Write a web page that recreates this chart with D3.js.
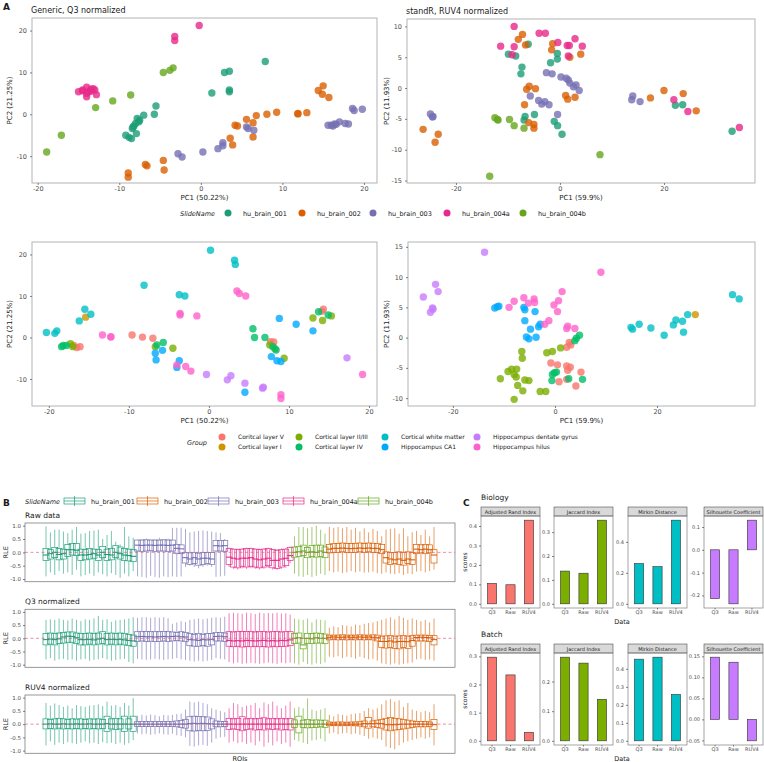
<!DOCTYPE html>
<html><head><meta charset="utf-8">
<script src="https://cdn.jsdelivr.net/npm/d3@7"></script>
<style>body{margin:0;background:#fff}svg{display:block;font-family:"DejaVu Sans",sans-serif}</style>
</head><body><svg id="c" width="764" height="762"></svg>
<script>
// ---------------- DATA ----------------
const slideNames = ["hu_brain_001","hu_brain_002","hu_brain_003","hu_brain_004a","hu_brain_004b"];
const slideColors = ["#1b9e77","#d95f02","#7570b3","#e7298a","#66a61e"];
const groupNames = ["Coritcal layer V","Cortical layer I","Cortical layer II/III","Cortical layer IV","Cortical white matter","Hippocampus CA1","Hippocampus dentate gyrus","Hippocampus hilus"];
const groupColors = ["#F8766D","#CD9600","#7CAE00","#00BE67","#00BFC4","#00A9FF","#C77CFF","#FF61CC"];

// PCA: Generic Q3 normalized, by slide
const q3S001 = [[7.9,12.6],[2.9,10],[3.5,10.3],[3.5,5.8],[3.5,5.4],[1.35,5.1],[-5.5,2],[-5.7,0],[-7,-0.2],[-7.8,-1],[-7.5,-1.4],[-8,-2.2],[-8.3,-3],[-8.4,-3.4],[-7.9,-4.6],[-9.2,-5],[-8.8,-5.5],[-8.5,-5.8],[-7.6,-1.8],[-8.2,-2.8]];
const q3S002 = [[15,6.8],[14.4,5.7],[14.9,4.8],[15.7,4],[13,0.4],[11.9,0.2],[11.9,0.1],[9.3,0.5],[8.1,0],[6.8,-0.3],[5.6,-1.2],[6.4,-2],[4.2,-2.6],[4.5,-2.8],[3.6,-5.7],[3.9,-7.3],[6.4,-5.4],[-4.6,-11],[-4.5,-13.3],[-6.8,-12],[-6.6,-12.3],[-8.9,-14],[-8.9,-15]];
const q3S003 = [[19.8,1.2],[18.6,1.4],[18.8,0.9],[15.6,-2.6],[16,-2.6],[16.2,-2.8],[16.6,-2.4],[17,-1.8],[17.7,-2.2],[18.1,-2.3],[16.4,-2.3],[5.6,-3],[5.8,-3.4],[6.5,-3.8],[2.7,-6.8],[2.7,-7.5],[2.1,-8.2],[0.25,-9],[-2.8,-9.4],[-2.3,-10.2]];
const q3S004a = [[-0.2,21.2],[-3.2,18.6],[-3.2,17.6],[-15,5.4],[-14.5,5.6],[-14,6.5],[-14,5],[-13.5,6],[-13.5,5.5],[-13,5.8],[-12.8,4.7],[-14,4.2],[-14.5,5.8],[-13.8,5.3],[-13.2,6.1]];
const q3S004b = [[-18.9,-9],[-17.1,-5],[-12.9,1.6],[-10.8,3.2],[-8.6,4.6],[-4.6,10],[-3.8,10.5],[-3.4,11.1]];

// PCA: standR RUV4 normalized, by slide
const ruvS001 = [[-9.9,5.5],[-8.5,5.2],[-6.1,7.1],[-7.3,3.4],[-7.5,2.3],[-0.5,5.6],[-0.5,4.7],[-1.8,4.1],[-6.7,-4.6],[-6.9,-5.2],[-4.9,-4.3],[-1.1,-5.4],[-0.45,-6.1],[0.4,-7.5],[22.2,-2.8],[23.6,-2.7],[33.1,-7]];
const ruvS002 = [[-7.2,8.7],[-8,7.9],[-6.6,7],[-1.4,7.2],[-1.6,6.2],[1.9,5],[4,5.5],[-5.9,0.3],[-6.4,-0.2],[-4.7,-0.1],[-6.8,-2.7],[-6,-5.6],[-5,-5.9],[-5,-6.5],[1.1,-1.2],[1.5,-1.8],[2.9,-1.5],[17.4,-1.6],[20,-0.4],[23.7,-0.9],[26.2,-3.7],[-26.3,-6.7],[-23.4,-7.5],[-24,-8.8]];
const ruvS003 = [[-24.9,-4.2],[-24.5,-4.7],[-24.4,-4.6],[-2.6,2.5],[-1.5,2.3],[0.2,1.8],[1.2,1.6],[1.6,1.3],[1.9,0.8],[3.1,0.5],[3.7,-0.4],[2.6,0.2],[-5.7,-1.3],[-4.1,-2],[-3.5,-2.6],[-2.9,-2.2],[-2.1,-2.7],[-0.45,-4.3],[14,-1.3],[13.8,-1.9],[15.4,-2.2]];
const ruvS004a = [[-8.8,10],[-11.4,6.8],[-8.8,6.7],[-9.2,5.4],[-4,8.9],[-2.8,8.9],[-0.4,7.4],[1.4,6.9],[1.8,6.9],[1.6,5.2],[2.9,8],[4.3,6.8],[21.9,-1.9],[24.6,-3.8],[34.5,-6.4]];
const ruvS004b = [[-12.5,-4.8],[-11.9,-5.2],[-12,-5.1],[-9.7,-5.1],[-8.8,-6.1],[-6.9,-6.5],[7.7,-10.8],[-13.5,-14.3]];

// PCA: Generic Q3 normalized, by group
const q3GV = [[-16.9,-1.9],[-16.5,-2.4],[-16.1,-2.2],[-9.6,0.6],[-8.3,0.1],[-7,-0.2],[7.7,-1],[8.1,-1.1],[14.3,6.8],[14.1,6.3]];
const q3GI = [[-15.4,4.9]];
const q3GII = [[-17.3,-1.5],[-17,-2.2],[-6.7,-2.2],[-4.5,-2.6],[7.6,-1.8],[8.25,-2.7],[9.4,-5],[13,4.7],[14.2,4.1],[15.3,5.2]];
const q3GIV = [[-18.4,-2.2],[-18.2,-1.9],[-17.8,-1.9],[-6.5,-1.8],[-5.7,-1.2],[5.5,2.1],[5.7,0],[7,0],[8,-2.2],[8.4,-3],[13.7,6.2],[14.9,5.4]];
const q3GWM = [[-20.3,1.2],[-19.25,1],[-19,1.6],[-16.2,4],[-15.5,6.8],[-14.75,5.6],[-8.1,12.6],[-3.7,10.3],[-3,10],[0.2,21],[3.2,18.6],[3.3,17.6]];
const q3GCA1 = [[8.8,4.6],[10.9,3.2],[13,1.6],[-6.7,-3.8],[-6.6,-5.4],[-5.8,-3.1],[-3.7,-5.6],[-4,-7.2],[4.5,-13.2],[7.8,-4.6],[8.5,-5.6],[9,-5.8]];
const q3GDG = [[-0.3,-8.9],[2.3,-10.2],[2.75,-9.2],[4.5,-11],[6.7,-12.2],[6.8,-12],[17.25,-4.9]];
const q3GHil = [[-13.3,0.6],[-12.25,0.2],[-12.25,0.1],[-3.6,5.8],[-3.6,5.4],[-1.5,5.2],[3.5,11.2],[3.8,10.6],[4.6,10],[-4,-6.6],[-2.9,-7],[-2.25,-8.1],[9,-13.8],[9,-14.7],[19.2,-8.9]];

// PCA: standR RUV4 normalized, by group
const ruvGV = [[-0.8,-4.2],[0.5,-4.5],[0.8,-7.3],[2.3,-1.6],[2.8,-0.8],[3.1,-1.2],[2.3,-4.7],[3,-4.9],[2.5,-5.4],[2.3,-6.9],[5.1,-5.7],[4.1,-8]];
const ruvGI = [[27.5,3.8]];
const ruvGII = [[-6.5,-2.3],[-6.4,-3.4],[-1.6,-2.5],[-0.5,-2.3],[1.1,-1.7],[-9.2,-5.6],[-8.5,-5.2],[-7.5,-5.2],[-8,-6.1],[-7.6,-6.5],[-10.7,-6.8],[-5.9,-7],[-5.1,-7.1],[-7.3,-7.9],[-6.3,-8.8],[-2.9,-8.9],[-1.8,-8.9],[-8,-10.2]];
const ruvGIV = [[4.2,-0.1],[4.8,0.4],[3.9,-0.5],[-0.1,-5.8],[-0.5,-6.1],[0.3,-5.7],[-0.6,-7.1],[2.7,-6.8],[5.4,-6.9]];
const ruvGWM = [[14.9,1.7],[15.2,1.4],[16.5,2.2],[18.8,1.6],[21.4,0.4],[23.2,2.1],[23.7,2.9],[25,2.7],[26,3.8],[25.2,0.9],[34.8,7.1],[36.1,6.4]];
const ruvGCA1 = [[-11.8,4.9],[-11.3,5.1],[-11,5.2],[-6.1,5],[-5.9,4.6],[-3.9,4.3],[-5.9,2.8],[-4.8,1.4],[-2.9,2.2],[-3.2,1.8],[-5.6,0.1],[-5.1,-0.2],[-3.7,0.05]];
const ruvGDG = [[-13.8,14.1],[-23.4,8.8],[-22.9,7.6],[-25.8,6.7],[-24,4.9],[-23.9,4.7],[-24.4,4.2]];
const ruvGHil = [[9,10.8],[1.4,7.6],[0.7,6.1],[-0.2,5.4],[0.5,4.3],[-6.1,6.6],[-4.1,6.4],[-4,5.8],[-5.2,5.7],[-8,6],[-9,5],[-1.2,2.8],[-2,2.2],[2.3,1.5],[2.5,1.9],[3.9,1.5]];

// RLE boxplots: ROIs ordered by slide (001, 003, 004a, 004b, 002); each [lower whisker, Q1, median, Q3, upper whisker]
const roiSlideOrder = [0,2,3,4,1];
const roiCounts = [21,21,15,8,25];
const rleRaw = [
[-0.90,-0.30,-0.10,0.15,0.97],[-0.75,-0.25,-0.05,0.10,0.75],[-0.85,-0.20,0.00,0.18,0.85],[-0.70,-0.28,-0.08,0.15,0.85],[-0.80,-0.25,-0.05,0.12,0.78],[-0.75,-0.15,0.10,0.30,0.72],[-0.85,-0.10,0.10,0.33,0.85],[-0.65,-0.12,0.08,0.33,0.95],[-0.90,-0.30,-0.10,0.12,0.70],[-0.85,-0.28,-0.10,0.10,0.72],[-0.80,-0.25,-0.08,0.15,0.80],[-0.88,-0.22,-0.05,0.12,0.82],[-0.75,-0.30,-0.10,0.10,0.85],[-0.82,-0.20,0.00,0.22,0.50],[-0.90,-0.30,-0.08,0.12,0.65],[-0.78,-0.28,-0.10,0.15,0.80],[-0.85,-0.20,0.00,0.25,0.40],[-0.95,-0.25,-0.05,0.20,0.30],[-0.80,-0.30,-0.10,0.15,0.95],[-0.90,-0.32,-0.12,0.12,0.60],[-0.70,-0.35,-0.15,0.10,0.55],
[-0.90,0.05,0.27,0.46,0.48],[-0.92,0.04,0.26,0.46,0.50],[-0.95,0.05,0.27,0.47,0.52],[-0.88,0.06,0.27,0.46,0.48],[-0.92,0.04,0.26,0.46,0.50],[-0.95,0.05,0.27,0.46,0.55],[-0.90,0.05,0.27,0.47,0.50],[-0.93,0.04,0.26,0.46,0.52],[-0.90,0.05,0.27,0.46,0.92],[-0.92,-0.05,0.15,0.30,0.92],[-0.90,-0.05,0.13,0.28,0.92],[-0.55,-0.40,-0.20,0.00,0.88],[-0.50,-0.45,-0.25,-0.02,0.75],[-0.55,-0.42,-0.20,0.00,0.78],[-0.60,-0.48,-0.25,-0.03,0.80],[-0.55,-0.45,-0.22,0.00,0.82],[-0.50,-0.42,-0.22,0.00,0.80],[-0.55,-0.45,-0.25,0.00,0.78],[-0.92,0.05,0.25,0.45,0.75],[-0.90,0.05,0.24,0.45,0.72],[-0.88,0.04,0.25,0.44,0.50],
[-0.55,-0.45,-0.18,0.15,0.18],[-0.62,-0.55,-0.22,0.12,0.15],[-0.65,-0.58,-0.25,0.10,0.14],[-0.60,-0.52,-0.22,0.12,0.15],[-0.62,-0.55,-0.22,0.14,0.18],[-0.60,-0.52,-0.20,0.15,0.18],[-0.62,-0.55,-0.25,0.12,0.15],[-0.65,-0.58,-0.28,0.10,0.14],[-0.62,-0.55,-0.25,0.12,0.16],[-0.58,-0.50,-0.22,0.14,0.18],[-0.65,-0.58,-0.30,0.10,0.13],[-0.66,-0.60,-0.30,0.08,0.12],[-0.62,-0.55,-0.25,0.10,0.15],[-0.58,-0.50,-0.22,0.12,0.16],[-0.40,-0.30,-0.12,0.18,0.22],
[-0.80,-0.18,0.00,0.20,0.60],[-0.90,-0.15,0.02,0.22,0.95],[-0.92,-0.12,0.05,0.27,0.95],[-0.85,-0.20,0.00,0.18,0.90],[-0.92,-0.15,0.02,0.25,0.95],[-0.88,-0.18,0.00,0.27,1.00],[-0.80,-0.15,0.05,0.27,0.85],[-0.85,-0.20,0.00,0.20,0.70],
[-0.70,-0.02,0.12,0.30,0.95],[-0.75,0.00,0.15,0.33,0.92],[-0.72,0.00,0.15,0.33,0.95],[-0.78,0.02,0.16,0.35,0.90],[-0.75,0.00,0.15,0.33,0.95],[-0.70,0.00,0.14,0.33,0.85],[-0.75,0.00,0.15,0.34,0.92],[-0.72,0.02,0.16,0.35,0.78],[-0.76,0.00,0.15,0.33,0.90],[-0.75,0.02,0.16,0.35,0.75],[-0.72,0.00,0.15,0.34,0.88],[-0.78,0.00,0.15,0.33,0.80],[-0.80,-0.05,0.10,0.30,0.60],[-0.75,-0.40,-0.20,0.02,0.85],[-0.80,-0.45,-0.25,0.00,0.88],[-0.82,-0.42,-0.28,0.00,0.90],[-0.78,-0.45,-0.25,0.02,0.70],[-0.85,-0.48,-0.30,0.00,0.90],[-0.80,-0.42,-0.25,0.02,0.60],[-0.82,-0.45,-0.28,0.00,0.75],[-0.72,-0.05,0.12,0.30,0.80],[-0.70,-0.02,0.10,0.28,0.65],[-0.75,-0.05,0.12,0.30,0.85],[-0.70,-0.02,0.10,0.28,0.60],[-0.65,-0.40,-0.10,0.10,0.95]];
const rleQ3 = [
[-0.80,-0.25,-0.05,0.18,0.70],[-0.75,-0.22,-0.03,0.20,0.72],[-0.85,-0.25,-0.05,0.18,0.70],[-0.80,-0.20,-0.02,0.20,0.75],[-0.78,-0.18,0.05,0.22,0.70],[-0.82,-0.15,0.08,0.24,0.68],[-0.80,-0.15,0.07,0.24,0.75],[-0.85,-0.20,0.02,0.20,0.70],[-0.80,-0.25,-0.05,0.18,0.65],[-0.78,-0.25,-0.05,0.18,0.72],[-0.85,-0.22,-0.04,0.20,0.70],[-0.82,-0.25,-0.06,0.18,0.75],[-0.80,-0.22,-0.03,0.20,0.85],[-0.75,-0.20,0.00,0.25,0.70],[-0.80,-0.25,-0.05,0.18,0.72],[-0.85,-0.22,-0.04,0.20,0.62],[-0.82,-0.25,-0.05,0.18,0.68],[-0.80,-0.22,-0.04,0.20,0.70],[-0.78,-0.25,-0.06,0.18,0.72],[-0.90,-0.28,-0.08,0.15,0.75],[-0.95,-0.30,-0.10,0.12,0.80],
[-0.78,-0.12,0.06,0.25,0.78],[-0.80,-0.10,0.07,0.25,0.80],[-0.82,-0.12,0.06,0.26,0.80],[-0.80,-0.11,0.06,0.25,0.78],[-0.78,-0.12,0.05,0.25,0.80],[-0.80,-0.12,0.06,0.25,0.78],[-0.82,-0.10,0.07,0.26,0.80],[-0.80,-0.12,0.06,0.25,0.76],[-0.78,-0.10,0.07,0.24,0.55],[-0.75,-0.08,0.08,0.22,0.60],[-0.80,-0.10,0.06,0.25,0.65],[-0.82,-0.12,0.05,0.22,0.62],[-0.85,-0.28,-0.05,0.18,0.70],[-0.88,-0.30,-0.06,0.15,0.72],[-0.85,-0.30,-0.08,0.18,0.75],[-0.88,-0.28,-0.05,0.15,0.72],[-0.85,-0.30,-0.06,0.18,0.75],[-0.82,-0.25,-0.04,0.18,0.78],[-0.75,-0.10,0.07,0.22,0.80],[-0.78,-0.10,0.08,0.22,0.78],[-0.80,-0.12,0.06,0.20,0.82],
[-0.90,-0.30,-0.08,0.25,0.95],[-0.95,-0.32,-0.10,0.24,0.97],[-0.92,-0.30,-0.09,0.26,0.95],[-0.97,-0.33,-0.10,0.25,0.93],[-0.95,-0.31,-0.08,0.26,0.97],[-0.93,-0.32,-0.09,0.25,0.95],[-0.95,-0.30,-0.10,0.24,0.92],[-0.97,-0.32,-0.09,0.26,0.97],[-0.95,-0.31,-0.08,0.25,0.95],[-0.92,-0.33,-0.10,0.24,0.96],[-0.95,-0.30,-0.09,0.25,0.95],[-0.97,-0.32,-0.10,0.26,0.97],[-0.93,-0.31,-0.08,0.24,0.94],[-0.95,-0.30,-0.09,0.25,0.95],[-0.92,-0.28,-0.06,0.25,0.90],
[-0.95,-0.20,0.00,0.18,0.75],[-1.00,-0.18,0.02,0.20,0.72],[-0.90,-0.40,-0.25,0.00,0.70],[-0.98,-0.20,0.00,0.18,0.75],[-1.00,-0.20,-0.02,0.18,0.60],[-0.95,-0.18,0.02,0.20,0.72],[-0.98,-0.18,0.00,0.18,0.70],[-0.92,-0.20,0.00,0.16,0.68],
[-0.70,-0.06,0.04,0.12,0.40],[-0.72,-0.05,0.05,0.12,0.45],[-0.68,-0.06,0.04,0.12,0.42],[-0.75,-0.05,0.04,0.13,0.50],[-0.70,-0.06,0.05,0.12,0.48],[-0.72,-0.05,0.04,0.12,0.45],[-0.78,-0.06,0.04,0.12,0.52],[-0.70,-0.05,0.05,0.13,0.50],[-0.75,-0.06,0.04,0.12,0.55],[-0.80,-0.05,0.05,0.12,0.58],[-0.78,-0.06,0.04,0.13,0.60],[-0.85,-0.10,0.02,0.12,0.65],[-0.95,-0.35,-0.12,0.08,0.70],[-0.98,-0.37,-0.12,0.09,0.75],[-1.00,-0.35,-0.10,0.10,0.80],[-0.95,-0.38,-0.14,0.08,0.72],[-1.00,-0.40,-0.12,0.09,0.85],[-0.97,-0.35,-0.12,0.10,0.78],[-0.95,-0.38,-0.13,0.08,0.70],[-0.92,-0.30,-0.08,0.10,0.75],[-0.80,-0.10,0.03,0.12,0.70],[-0.78,-0.10,0.04,0.12,0.65],[-0.82,-0.10,0.03,0.12,0.70],[-0.80,-0.12,0.02,0.10,0.60],[-0.85,-0.25,-0.05,0.10,0.75]];
const rleRUV4 = [
[-0.80,-0.18,0.00,0.20,0.80],[-0.65,-0.16,0.01,0.18,0.70],[-0.78,-0.18,0.00,0.20,0.78],[-0.70,-0.15,0.00,0.22,0.72],[-0.75,-0.18,0.01,0.20,0.65],[-0.68,-0.16,0.00,0.18,0.70],[-0.72,-0.18,0.00,0.20,0.60],[-0.75,-0.17,0.01,0.19,0.72],[-0.70,-0.18,0.00,0.20,0.68],[-0.65,-0.16,0.00,0.18,0.65],[-0.72,-0.18,0.01,0.20,0.70],[-0.70,-0.17,0.00,0.19,0.72],[-0.75,-0.18,0.00,0.20,0.75],[-0.68,-0.16,0.00,0.18,0.68],[-0.72,-0.27,0.02,0.30,0.85],[-0.70,-0.18,0.00,0.20,0.70],[-0.75,-0.20,0.00,0.22,0.72],[-0.70,-0.18,0.00,0.20,0.65],[-0.78,-0.27,0.00,0.30,0.80],[-0.72,-0.18,0.00,0.20,0.70],[-0.60,-0.27,0.00,0.30,0.98],
[-0.35,-0.08,0.00,0.09,0.32],[-0.38,-0.09,0.00,0.10,0.35],[-0.36,-0.08,0.00,0.09,0.33],[-0.40,-0.09,0.00,0.10,0.36],[-0.38,-0.08,0.00,0.09,0.34],[-0.35,-0.09,0.00,0.10,0.30],[-0.38,-0.08,0.00,0.09,0.35],[-0.40,-0.09,0.00,0.10,0.33],[-0.36,-0.08,0.00,0.09,0.35],[-0.42,-0.10,0.00,0.12,0.38],[-0.45,-0.12,0.00,0.14,0.40],[-0.50,-0.15,0.00,0.18,0.55],[-0.82,-0.25,0.02,0.28,0.85],[-0.85,-0.26,0.03,0.30,0.82],[-0.80,-0.24,0.02,0.29,0.85],[-0.78,-0.25,0.03,0.28,0.80],[-0.82,-0.24,0.02,0.27,0.75],[-0.70,-0.18,0.01,0.20,0.60],[-0.55,-0.10,0.00,0.12,0.55],[-0.50,-0.10,0.00,0.10,0.50],[-0.48,-0.09,0.00,0.10,0.45],
[-0.70,-0.20,0.00,0.22,0.60],[-0.65,-0.18,0.00,0.20,0.80],[-0.72,-0.20,0.00,0.22,0.75],[-0.68,-0.25,0.00,0.28,0.65],[-0.75,-0.20,0.00,0.20,0.70],[-0.70,-0.18,0.00,0.22,0.72],[-0.80,-0.22,0.00,0.20,0.80],[-0.65,-0.20,0.00,0.22,0.60],[-0.85,-0.22,0.00,0.24,0.82],[-0.70,-0.18,0.00,0.20,0.75],[-0.80,-0.20,0.00,0.22,0.85],[-0.65,-0.18,0.00,0.20,0.70],[-0.75,-0.22,0.00,0.22,0.60],[-0.70,-0.20,0.00,0.20,0.70],[-0.85,-0.22,0.00,0.22,0.85],
[-0.60,-0.12,0.00,0.16,0.60],[-0.65,-0.33,0.00,0.30,0.65],[-0.70,-0.12,0.00,0.15,0.60],[-0.75,-0.14,0.00,0.18,0.97],[-0.62,-0.12,0.00,0.15,0.55],[-0.60,-0.12,0.00,0.16,0.50],[-0.55,-0.10,0.00,0.15,0.55],[-0.65,-0.12,0.00,0.15,0.60],
[-0.35,-0.06,0.00,0.08,0.35],[-0.32,-0.05,0.00,0.07,0.30],[-0.38,-0.06,0.00,0.08,0.38],[-0.35,-0.06,0.00,0.08,0.35],[-0.33,-0.05,0.00,0.07,0.32],[-0.38,-0.06,0.00,0.08,0.38],[-0.35,-0.06,0.00,0.08,0.40],[-0.40,-0.07,0.00,0.09,0.42],[-0.45,-0.10,0.02,0.12,0.50],[-0.55,-0.15,0.02,0.25,0.60],[-0.50,-0.10,0.02,0.12,0.55],[-0.55,-0.12,0.03,0.15,0.60],[-0.60,-0.15,0.02,0.18,0.75],[-0.85,-0.22,-0.02,0.22,0.90],[-0.90,-0.25,-0.02,0.25,0.95],[-0.95,-0.22,-0.02,0.22,0.85],[-0.80,-0.20,-0.01,0.20,0.90],[-0.70,-0.18,0.00,0.18,0.65],[-0.65,-0.15,0.00,0.15,0.80],[-0.60,-0.12,0.00,0.12,0.55],[-0.55,-0.10,0.00,0.10,0.50],[-0.50,-0.10,0.00,0.10,0.45],[-0.55,-0.10,0.00,0.10,0.50],[-0.50,-0.08,0.00,0.08,0.45],[-0.80,-0.20,-0.02,0.18,0.75]];
const rleTicks = [-1.0,-0.5,0.0,0.5,1.0];

// Clustering scores
const metricNames = ["Adjusted Rand Index","Jaccard Index","Mirkin Distance","Silhouette Coefficient"];
const metricColors = ["#F8766D","#7CAE00","#00BFC4","#C77CFF"];
const dataTypes = ["Q3","Raw","RUV4"];
const bioARI = [0.105,0.098,0.43], bioJac = [0.137,0.128,0.35], bioMirkin = [0.26,0.24,0.54], bioSil = [-0.214,-0.237,0.13];
const batchARI = [0.297,0.234,0.03], batchJac = [0.282,0.262,0.14], batchMirkin = [0.454,0.465,0.258], batchSil = [0.148,0.136,-0.051];
const bioTicks = [[0,0.1,0.2,0.3,0.4],[0,0.1,0.2,0.3],[0,0.2,0.4],[-0.2,-0.1,0,0.1]];
const batchTicks = [[0,0.1,0.2,0.3],[0,0.1,0.2],[0,0.1,0.2,0.3,0.4],[-0.05,0,0.05,0.1,0.15]];

// ---------------- DRAW ----------------
const svg = d3.select("#c");
function text(x,y,s,o={}){
  const t = svg.append("text").attr("x",x).attr("y",y).text(s)
    .attr("font-size",o.size||8).attr("fill",o.fill||"#1a1a1a")
    .attr("text-anchor",o.anchor||"start");
  if(o.italic) t.attr("font-style","italic");
  if(o.bold) t.attr("font-weight","bold");
  if(o.rot) t.attr("transform",`rotate(-90,${x},${y})`);
  if(o.mid) t.attr("dominant-baseline","central");
  return t;
}
function styleAxis(g, fs){
  g.select(".domain").remove();
  g.selectAll(".tick line").attr("stroke","#333").attr("stroke-width",0.6);
  g.selectAll(".tick text").attr("fill","#4d4d4d").attr("font-size",fs).attr("font-family","DejaVu Sans, sans-serif");
}

function pcaPanel(p){
  const x = d3.scaleLinear().domain(p.xd).range([p.l,p.r]);
  const y = d3.scaleLinear().domain(p.yd).range([p.b,p.t]);
  const g = svg.append("g");
  p.layers.forEach(L=>{
    g.append("g").selectAll("circle").data(L.pts).join("circle")
      .attr("cx",d=>x(d[0])).attr("cy",d=>y(d[1])).attr("r",3.7)
      .attr("fill",L.color).attr("fill-opacity",0.8);
  });
  g.append("rect").attr("x",p.l).attr("y",p.t).attr("width",p.r-p.l).attr("height",p.b-p.t)
    .attr("fill","none").attr("stroke","#b3b3b3").attr("stroke-width",1);
  const ax = g.append("g").attr("transform",`translate(0,${p.b})`)
    .call(d3.axisBottom(x).tickValues(p.xt).tickSize(2).tickPadding(1.5).tickFormat(d=>String(d)));
  styleAxis(ax,6.5);
  const ay = g.append("g").attr("transform",`translate(${p.l},0)`)
    .call(d3.axisLeft(y).tickValues(p.yt).tickSize(2).tickPadding(3).tickFormat(d=>String(d)));
  styleAxis(ay,6.5);
  if(p.title) text(p.l-1,p.t-5,p.title,{size:8});
  text((p.l+p.r)/2,p.b+17,p.xlab,{size:7,anchor:"middle"});
  text(p.yl,(p.t+p.b)/2,p.ylab,{size:7,anchor:"middle",rot:true});
}

text(3,10,"A",{size:9,bold:true});
pcaPanel({l:32,r:377,t:18,b:183,xd:[-20.7,21.6],yd:[-16.4,23.0],xt:[-20,-10,0,10,20],yt:[-10,0,10,20],
  title:"Generic, Q3 normalized",xlab:"PC1 (50.22%)",ylab:"PC2 (21.25%)",yl:12,
  layers:[{pts:q3S001,color:slideColors[0]},{pts:q3S002,color:slideColors[1]},{pts:q3S003,color:slideColors[2]},{pts:q3S004a,color:slideColors[3]},{pts:q3S004b,color:slideColors[4]}]});
pcaPanel({l:407,r:755,t:19,b:183,xd:[-29.4,37.5],yd:[-15.4,11.2],xt:[-20,0,20],yt:[-15,-10,-5,0,5,10],
  title:"standR, RUV4 normalized",xlab:"PC1 (59.9%)",ylab:"PC2 (11.93%)",yl:389,
  layers:[{pts:ruvS001,color:slideColors[0]},{pts:ruvS002,color:slideColors[1]},{pts:ruvS003,color:slideColors[2]},{pts:ruvS004a,color:slideColors[3]},{pts:ruvS004b,color:slideColors[4]}]});
pcaPanel({l:32,r:377,t:242,b:406,xd:[-22.1,21.0],yd:[-16.5,23.0],xt:[-20,-10,0,10,20],yt:[-10,0,10,20],
  xlab:"PC1 (50.22%)",ylab:"PC2 (21.25%)",yl:12,
  layers:groupColors.map((c,i)=>({pts:[q3GV,q3GI,q3GII,q3GIV,q3GWM,q3GCA1,q3GDG,q3GHil][i],color:c}))});
pcaPanel({l:408,r:755,t:242,b:406,xd:[-28.8,39.2],yd:[-11.3,15.8],xt:[-20,0,20],yt:[-10,-5,0,5,10,15],
  xlab:"PC1 (59.9%)",ylab:"PC2 (11.93%)",yl:389,
  layers:groupColors.map((c,i)=>({pts:[ruvGV,ruvGI,ruvGII,ruvGIV,ruvGWM,ruvGCA1,ruvGDG,ruvGHil][i],color:c}))});

// slide legend (PCA)
text(180,215.5,"SlideName",{size:6.5,italic:true});
const slLegX = [228,302,373,447,523];
slideNames.forEach((s,i)=>{
  svg.append("circle").attr("cx",slLegX[i]).attr("cy",213).attr("r",3.5).attr("fill",slideColors[i]);
  text(slLegX[i]+15,215.5,s,{size:6.5});
});
// group legend
text(197,444.5,"Group",{size:6.5,italic:true,anchor:"middle"});
const gColX = [222,299,385,477];
groupNames.forEach((s,i)=>{
  const col = Math.floor(i/2), row = i%2;
  const cy = 437 + row*10;
  svg.append("circle").attr("cx",gColX[col]).attr("cy",cy).attr("r",3.5).attr("fill",groupColors[i]);
  text(gColX[col]+16,cy+2.3,s,{size:6});
});

// ---------------- Panel B ----------------
text(3,506,"B",{size:9,bold:true});
text(25,503.5,"SlideName",{size:6.5,italic:true});
const bLegKey = [64,137,208,283,358];
const bLegIdx = [0,1,2,3,4];
bLegIdx.forEach((si,i)=>{
  const kx = bLegKey[i], cy = 501, c = slideColors[si];
  const g = svg.append("g").attr("stroke",c).attr("fill","none").attr("stroke-width",0.7);
  g.append("rect").attr("x",kx).attr("y",cy-3).attr("width",21).attr("height",6);
  g.append("line").attr("x1",kx).attr("x2",kx+21).attr("y1",cy).attr("y2",cy);
  g.append("line").attr("x1",kx+10.5).attr("x2",kx+10.5).attr("y1",cy-5).attr("y2",cy+5);
  text(kx+27,503.5,slideNames[si],{size:6.5});
});

const roiSlide = [];
roiSlideOrder.forEach((s,k)=>{ for(let j=0;j<roiCounts[k];j++) roiSlide.push(s); });
const xROI = d3.scalePoint().domain(d3.range(roiSlide.length)).range([46,434]);

function rlePanel(data, top, bottom, title){
  const y = d3.scaleLinear().domain([-1.1,1.1]).range([bottom,top]);
  text(25,top-5,title,{size:7.5});
  const g = svg.append("g");
  g.append("rect").attr("x",25).attr("y",top).attr("width",430).attr("height",bottom-top).attr("fill","#fff");
  const bw = 6;
  data.forEach((d,i)=>{
    const cx = xROI(i), c = slideColors[roiSlide[i]];
    const b = g.append("g").attr("stroke",c).attr("stroke-width",0.7).attr("fill","none");
    b.append("line").attr("x1",cx).attr("x2",cx).attr("y1",y(d[0])).attr("y2",y(d[1])).attr("stroke-opacity",0.85);
    b.append("line").attr("x1",cx).attr("x2",cx).attr("y1",y(d[3])).attr("y2",y(d[4])).attr("stroke-opacity",0.85);
    b.append("rect").attr("x",cx-bw/2).attr("y",y(d[3])).attr("width",bw).attr("height",y(d[1])-y(d[3]));
    b.append("line").attr("x1",cx-bw/2).attr("x2",cx+bw/2).attr("y1",y(d[2])).attr("y2",y(d[2])).attr("stroke-width",1.1);
  });
  g.append("line").attr("x1",25).attr("x2",455).attr("y1",y(0)).attr("y2",y(0))
    .attr("stroke","#e2607a").attr("stroke-width",0.7).attr("stroke-dasharray","3,2.5");
  g.append("rect").attr("x",25).attr("y",top).attr("width",430).attr("height",bottom-top)
    .attr("fill","none").attr("stroke","#7f7f7f").attr("stroke-width",0.8);
  const ay = g.append("g").attr("transform","translate(25,0)")
    .call(d3.axisLeft(y).tickValues(rleTicks).tickSize(2).tickPadding(2).tickFormat(d=>d.toFixed(1).replace("−","-")));
  styleAxis(ay,5.5);
  text(8,(top+bottom)/2,"RLE",{size:6.5,anchor:"middle",rot:true});
}
rlePanel(rleRaw,523,581.7,"Raw data");
rlePanel(rleQ3,609.3,667.3,"Q3 normalized");
rlePanel(rleRUV4,695,753.3,"RUV4 normalized");
text(240,760.5,"ROIs",{size:6.5,anchor:"middle"});

// ---------------- Panel C ----------------
text(463,506,"C",{size:9,bold:true});
const facetL = [481,554,628,704], facetW = 59;
function scorePanel(sets, ticks, stripTop, top, bottom, title, fmts, dataY){
  text(481,stripTop-7,title,{size:7.5});
  sets.forEach((vals,k)=>{
    const l = facetL[k], r = l+facetW;
    const lo = Math.min(0,d3.min(vals)), hi = Math.max(0,d3.max(vals));
    const pad = (hi-lo)*0.05;
    const y = d3.scaleLinear().domain([lo-pad,hi+pad]).range([bottom,top]);
    const x = d3.scaleBand().domain(dataTypes).range([l,r]).paddingInner(0.5).paddingOuter(0.35);
    svg.append("rect").attr("x",l).attr("y",stripTop).attr("width",facetW).attr("height",top-stripTop)
      .attr("fill","#d9d9d9").attr("stroke","#333").attr("stroke-width",0.5);
    text((l+r)/2,(stripTop+top)/2+0.3,metricNames[k],{size:5,anchor:"middle",mid:true,fill:"#1a1a1a"});
    svg.append("g").selectAll("rect").data(vals).join("rect")
      .attr("x",(d,i)=>x(dataTypes[i])).attr("width",x.bandwidth())
      .attr("y",d=>y(Math.max(0,d))).attr("height",d=>Math.abs(y(d)-y(0)))
      .attr("fill",metricColors[k]).attr("stroke","#333").attr("stroke-width",0.6);
    svg.append("rect").attr("x",l).attr("y",top).attr("width",facetW).attr("height",bottom-top)
      .attr("fill","none").attr("stroke","#7f7f7f").attr("stroke-width",0.7);
    const ay = svg.append("g").attr("transform",`translate(${l},0)`)
      .call(d3.axisLeft(y).tickValues(ticks[k]).tickSize(2).tickPadding(2).tickFormat(d=>d3.format(fmts[k])(d).replace("−","-")));
    styleAxis(ay,5);
    const ax = svg.append("g").attr("transform",`translate(0,${bottom})`)
      .call(d3.axisBottom(x).tickSize(1.5).tickPadding(1));
    styleAxis(ax,5);
  });
  text(622,dataY,"Data",{size:6.5,anchor:"middle"});
  text(467,(top+bottom)/2,"scores",{size:6,anchor:"middle",rot:true});
}
scorePanel([bioARI,bioJac,bioMirkin,bioSil],bioTicks,507,516,608,"Biology",[".1f",".1f",".1f",".1f"],624);
scorePanel([batchARI,batchJac,batchMirkin,batchSil],batchTicks,644,653,745,"Batch",[".1f",".1f",".1f",".2f"],760.5);
</script></body></html>
